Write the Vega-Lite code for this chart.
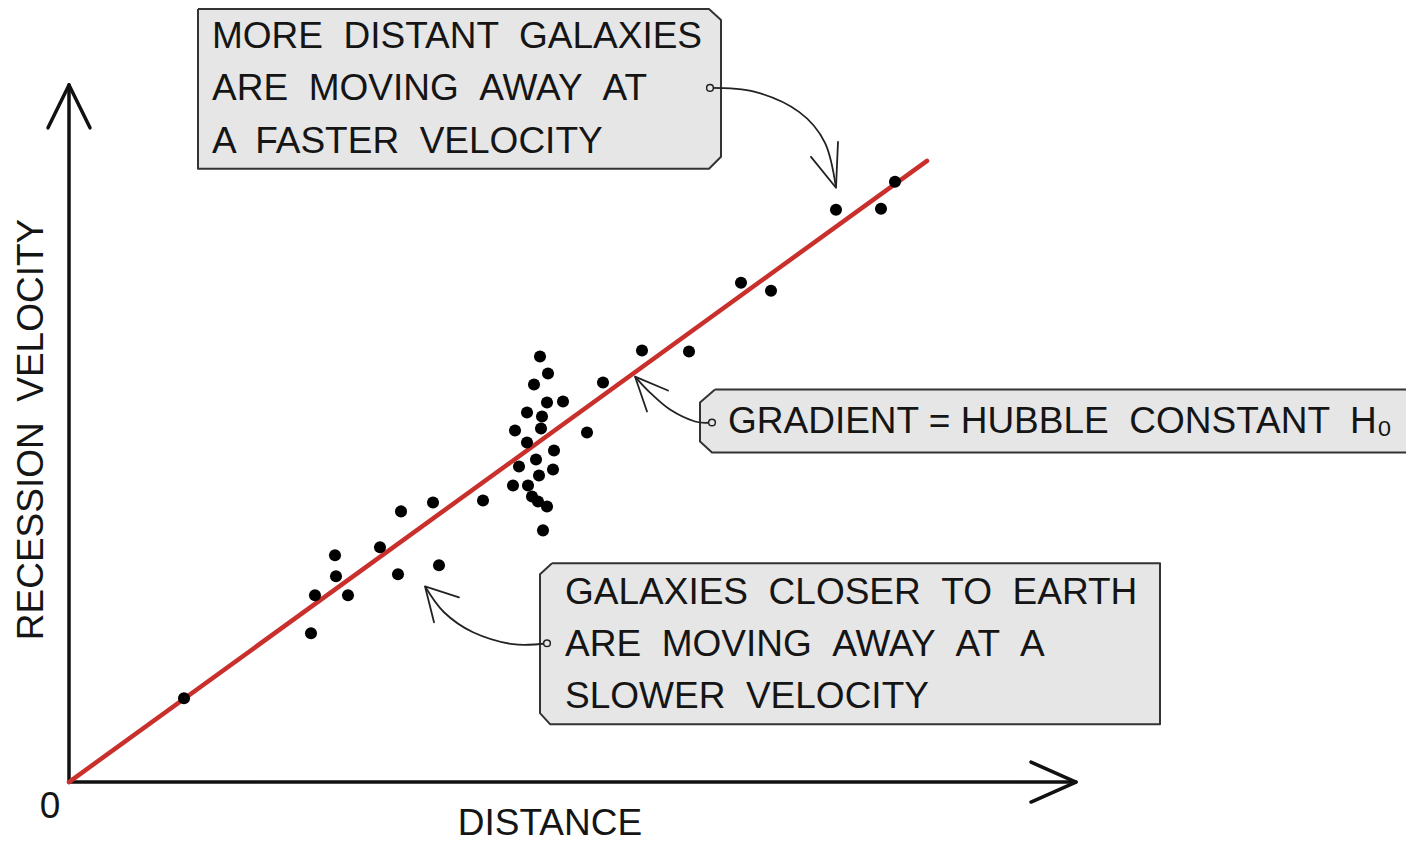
{
  "$schema": "https://vega.github.io/schema/vega-lite/v6.json",
  "width": 1406,
  "height": 842,
  "autosize": {"type": "fit", "contains": "padding"},
  "padding": 0,
  "background": "white",
  "config": {"view": {"stroke": null}},
  "datasets": {
    "galaxies": [
      {"d": 115, "v": 84}, {"d": 242, "v": 149}, {"d": 246, "v": 187}, {"d": 279, "v": 187},
      {"d": 267, "v": 206}, {"d": 266, "v": 227}, {"d": 311, "v": 235}, {"d": 329, "v": 208},
      {"d": 332, "v": 271}, {"d": 370, "v": 217}, {"d": 364, "v": 280}, {"d": 414, "v": 282},
      {"d": 471, "v": 426}, {"d": 479, "v": 409}, {"d": 465, "v": 398}, {"d": 534, "v": 400},
      {"d": 478, "v": 380}, {"d": 494, "v": 381}, {"d": 458, "v": 370}, {"d": 473, "v": 366},
      {"d": 446, "v": 352}, {"d": 472, "v": 354}, {"d": 518, "v": 350}, {"d": 458, "v": 340},
      {"d": 485, "v": 332}, {"d": 467, "v": 323}, {"d": 450, "v": 316}, {"d": 484, "v": 313},
      {"d": 470, "v": 307}, {"d": 444, "v": 297}, {"d": 459, "v": 297}, {"d": 463, "v": 286},
      {"d": 469, "v": 281}, {"d": 478, "v": 276}, {"d": 474, "v": 252}, {"d": 573, "v": 432},
      {"d": 620, "v": 431}, {"d": 672, "v": 500}, {"d": 702, "v": 492}, {"d": 767, "v": 573},
      {"d": 812, "v": 574}, {"d": 826, "v": 601}
    ],
    "fit": [{"d": 0, "v": 0}, {"d": 858, "v": 622}],
    "axes": [
      {"g": "y", "i": 0, "d": 0, "v": 0}, {"g": "y", "i": 1, "d": 0, "v": 698},
      {"g": "yh", "i": 0, "d": -21, "v": 655}, {"g": "yh", "i": 1, "d": 0, "v": 698}, {"g": "yh", "i": 2, "d": 21, "v": 655},
      {"g": "x", "i": 0, "d": 0, "v": 0}, {"g": "x", "i": 1, "d": 1007, "v": 0},
      {"g": "xh", "i": 0, "d": 962, "v": 20}, {"g": "xh", "i": 1, "d": 1007, "v": 0}, {"g": "xh", "i": 2, "d": 962, "v": -20}
    ],
    "boxes": [
      {"g": "b1", "i": 0, "d": 129, "v": 774}, {"g": "b1", "i": 1, "d": 640, "v": 774}, {"g": "b1", "i": 2, "d": 652, "v": 763},
      {"g": "b1", "i": 3, "d": 652, "v": 626}, {"g": "b1", "i": 4, "d": 640, "v": 614}, {"g": "b1", "i": 5, "d": 129, "v": 614},
      {"g": "b1", "i": 6, "d": 129, "v": 774},
      {"g": "b2", "i": 0, "d": 646, "v": 393}, {"g": "b2", "i": 1, "d": 1345, "v": 393}, {"g": "b2", "i": 2, "d": 1345, "v": 330},
      {"g": "b2", "i": 3, "d": 643, "v": 330}, {"g": "b2", "i": 4, "d": 631, "v": 341}, {"g": "b2", "i": 5, "d": 631, "v": 380},
      {"g": "b2", "i": 6, "d": 646, "v": 393},
      {"g": "b3", "i": 0, "d": 483, "v": 219}, {"g": "b3", "i": 1, "d": 1091, "v": 219}, {"g": "b3", "i": 2, "d": 1091, "v": 58},
      {"g": "b3", "i": 3, "d": 481, "v": 58}, {"g": "b3", "i": 4, "d": 471, "v": 69}, {"g": "b3", "i": 5, "d": 471, "v": 208},
      {"g": "b3", "i": 6, "d": 483, "v": 219}
    ],
    "callouts": [
      {"g": "c1", "i": 0, "d": 641, "v": 695}, {"g": "c1", "i": 1, "d": 686, "v": 691}, {"g": "c1", "i": 2, "d": 730, "v": 671},
      {"g": "c1", "i": 3, "d": 756, "v": 640}, {"g": "c1", "i": 4, "d": 767, "v": 595},
      {"g": "c2", "i": 0, "d": 643, "v": 360}, {"g": "c2", "i": 1, "d": 626, "v": 361}, {"g": "c2", "i": 2, "d": 601, "v": 373},
      {"g": "c2", "i": 3, "d": 581, "v": 390}, {"g": "c2", "i": 4, "d": 566, "v": 406},
      {"g": "c3", "i": 0, "d": 478, "v": 139}, {"g": "c3", "i": 1, "d": 444, "v": 138}, {"g": "c3", "i": 2, "d": 404, "v": 150},
      {"g": "c3", "i": 3, "d": 375, "v": 170}, {"g": "c3", "i": 4, "d": 356, "v": 196}
    ],
    "heads": [
      {"g": "h1", "i": 0, "d": 742, "v": 626}, {"g": "h1", "i": 1, "d": 767, "v": 595}, {"g": "h1", "i": 2, "d": 769, "v": 641},
      {"g": "h2", "i": 0, "d": 599, "v": 392}, {"g": "h2", "i": 1, "d": 566, "v": 406}, {"g": "h2", "i": 2, "d": 578, "v": 371},
      {"g": "h3", "i": 0, "d": 390, "v": 185}, {"g": "h3", "i": 1, "d": 356, "v": 196}, {"g": "h3", "i": 2, "d": 365, "v": 160}
    ],
    "anchors": [{"d": 641, "v": 695}, {"d": 643, "v": 360}, {"d": 478, "v": 139}],
    "boxtext": [
      {"d": 143, "v": 746, "t": "MORE \u00a0DISTANT \u00a0GALAXIES"},
      {"d": 143, "v": 694, "t": "ARE \u00a0MOVING \u00a0AWAY \u00a0AT"},
      {"d": 143, "v": 641, "t": "A \u00a0FASTER \u00a0VELOCITY"},
      {"d": 659, "v": 360, "t": "GRADIENT = HUBBLE \u00a0CONSTANT \u00a0H₀"},
      {"d": 496, "v": 189, "t": "GALAXIES \u00a0CLOSER \u00a0TO \u00a0EARTH"},
      {"d": 496, "v": 137, "t": "ARE \u00a0MOVING \u00a0AWAY \u00a0AT \u00a0A"},
      {"d": 496, "v": 85, "t": "SLOWER \u00a0VELOCITY"}
    ],
    "titles": [
      {"d": 481, "v": -42, "t": "DISTANCE"},
      {"d": -19, "v": -25, "t": "0"}
    ],
    "ytitle": [{"d": -37, "v": 353, "t": "RECESSION \u00a0VELOCITY"}]
  },
  "layer": [
    {
      "data": {"name": "boxes"},
      "mark": {"type": "line", "fill": "#e6e6e6", "stroke": "#333333", "strokeWidth": 2, "strokeJoin": "round", "clip": true},
      "encoding": {
        "x": {"field": "d", "type": "quantitative", "scale": {"domain": [-69, 1337], "nice": false, "zero": false}, "axis": null},
        "y": {"field": "v", "type": "quantitative", "scale": {"domain": [-59, 783], "nice": false, "zero": false}, "axis": null},
        "detail": {"field": "g"},
        "order": {"field": "i", "type": "quantitative"}
      }
    },
    {
      "data": {"name": "axes"},
      "mark": {"type": "line", "color": "#111111", "strokeWidth": 3.5, "strokeCap": "round", "strokeJoin": "round"},
      "encoding": {
        "x": {"field": "d", "type": "quantitative"},
        "y": {"field": "v", "type": "quantitative"},
        "detail": {"field": "g"},
        "order": {"field": "i", "type": "quantitative"}
      }
    },
    {
      "data": {"name": "fit"},
      "mark": {"type": "line", "color": "#c9302c", "strokeWidth": 4.5, "strokeCap": "round"},
      "encoding": {
        "x": {"field": "d", "type": "quantitative"},
        "y": {"field": "v", "type": "quantitative"}
      }
    },
    {
      "data": {"name": "galaxies"},
      "mark": {"type": "point", "shape": "circle", "filled": true, "color": "#000000", "opacity": 1, "size": 145},
      "encoding": {
        "x": {"field": "d", "type": "quantitative"},
        "y": {"field": "v", "type": "quantitative"}
      }
    },
    {
      "data": {"name": "callouts"},
      "mark": {"type": "line", "color": "#222222", "strokeWidth": 1.8, "interpolate": "cardinal"},
      "encoding": {
        "x": {"field": "d", "type": "quantitative"},
        "y": {"field": "v", "type": "quantitative"},
        "detail": {"field": "g"},
        "order": {"field": "i", "type": "quantitative"}
      }
    },
    {
      "data": {"name": "heads"},
      "mark": {"type": "line", "color": "#222222", "strokeWidth": 1.8, "strokeCap": "round", "strokeJoin": "round"},
      "encoding": {
        "x": {"field": "d", "type": "quantitative"},
        "y": {"field": "v", "type": "quantitative"},
        "detail": {"field": "g"},
        "order": {"field": "i", "type": "quantitative"}
      }
    },
    {
      "data": {"name": "anchors"},
      "mark": {"type": "point", "shape": "circle", "filled": true, "fill": "#e6e6e6", "stroke": "#222222", "strokeWidth": 1.5, "opacity": 1, "size": 45},
      "encoding": {
        "x": {"field": "d", "type": "quantitative"},
        "y": {"field": "v", "type": "quantitative"}
      }
    },
    {
      "data": {"name": "boxtext"},
      "mark": {"type": "text", "align": "left", "baseline": "middle", "font": "Liberation Sans", "fontSize": 37, "color": "#151515"},
      "encoding": {
        "x": {"field": "d", "type": "quantitative"},
        "y": {"field": "v", "type": "quantitative"},
        "text": {"field": "t"}
      }
    },
    {
      "data": {"name": "titles"},
      "mark": {"type": "text", "align": "center", "baseline": "middle", "font": "Liberation Sans", "fontSize": 37, "color": "#151515"},
      "encoding": {
        "x": {"field": "d", "type": "quantitative"},
        "y": {"field": "v", "type": "quantitative"},
        "text": {"field": "t"}
      }
    },
    {
      "data": {"name": "ytitle"},
      "mark": {"type": "text", "align": "center", "baseline": "middle", "angle": 270, "font": "Liberation Sans", "fontSize": 37, "color": "#151515"},
      "encoding": {
        "x": {"field": "d", "type": "quantitative"},
        "y": {"field": "v", "type": "quantitative"},
        "text": {"field": "t"}
      }
    }
  ]
}
